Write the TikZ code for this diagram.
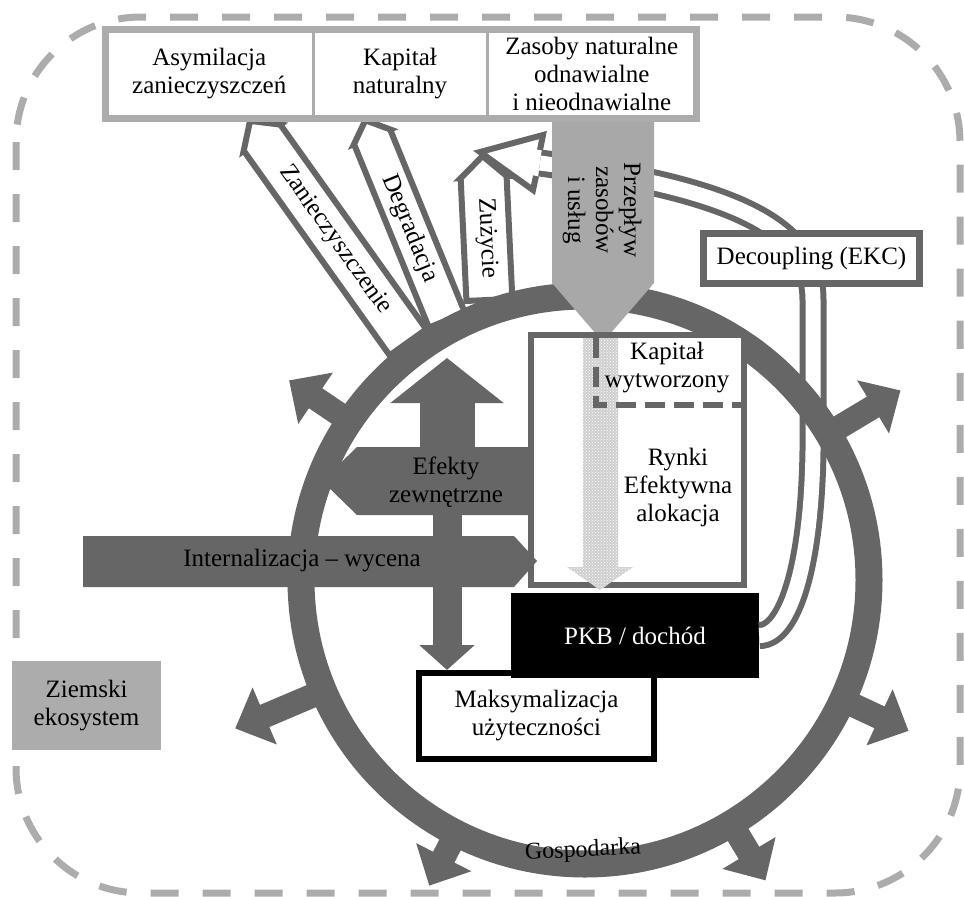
\documentclass[tikz,border=0pt]{standalone}
\usepackage{fontspec}
\setmainfont{Liberation Serif}
\usepackage{tikz}
\usetikzlibrary{arrows.meta,positioning,shapes.arrows,calc,patterns}
\definecolor{ringgray}{RGB}{102,102,102}
\definecolor{palegray}{RGB}{172,172,172}
\definecolor{flowgray}{RGB}{168,168,168}
\newcommand{\lbl}{\fontsize{25}{28}\selectfont}
\tikzset{
  ecoframe/.style={draw=palegray,line width=7pt,dash pattern=on 28pt off 24pt,rounded corners=125pt},
  topbox/.style={draw=palegray,line width=3pt,fill=white,minimum height=89pt,outer sep=0pt,inner sep=2pt,align=center,font=\lbl},
  whitebox/.style={draw=#1,line width=6pt,fill=white,inner sep=2pt,align=center,font=\lbl},
  pkbbox/.style={fill=black,text=white,minimum width=248pt,minimum height=85pt,font=\lbl},
  earthbox/.style={fill=palegray,minimum width=149pt,minimum height=89pt,align=center,font=\lbl},
  outarrow/.style={single arrow,shape border rotate=180,draw=ringgray,line width=6pt,fill=white,single arrow head extend=0.01pt,single arrow tip angle=95,inner sep=1pt,font=\lbl},
  spoke/.style={draw=ringgray,line width=24pt,-{Triangle[length=32pt,width=60pt]}},
  band/.style={draw=ringgray,line width=6pt,double=white,double distance=15pt},
  txt/.style={align=center,font=\lbl}
}

\begin{document}
\begin{tikzpicture}[x=1pt,y=-1pt]
\useasboundingbox (0,0) rectangle (964,897);
\draw[ecoframe] (16,17) rectangle (960,893);
\node[earthbox] (earth) at (86.5,705.5) {Ziemski\\ekosystem};

\node[whitebox=black,minimum width=235pt,minimum height=86pt] (maks) at (536.5,716) {Maksymalizacja\\użyteczności};
\node[pkbbox] (pkb) at (635,635.5) {PKB / dochód};

\coordinate (dectail) at (540,163);
\draw[band] (pkb.east) .. controls (790,636) and (815,560) .. (813,420) -- (813,300) .. controls (813,230) and (740,190) .. (dectail);
\node[whitebox=ringgray,line width=7pt,minimum width=216pt,minimum height=50pt] (decoup) at (811.5,258.5) {Decoupling (EKC)};

\node[outarrow,rotate=-54.5,minimum height=272pt,minimum width=45pt] (zan) at (335,240) {Zanieczyszczenie};
\node[outarrow,rotate=-67.8,minimum height=216pt,minimum width=39pt] (deg) at (409.5,228.5) {Degradacja};
\node[outarrow,rotate=-87.3,minimum height=144pt,minimum width=46pt] (zuz) at (486.5,238.5) {Zużycie};
\filldraw[draw=ringgray,fill=white,line width=6pt] (540,150) -- (543,135) -- (480,152) -- (533,190) -- (536,176);

\node[circle,draw=ringgray,line width=27pt,minimum size=568pt,inner sep=0pt,outer sep=0pt] (gosp) at (585,580) {};
\foreach \ang/\len in {146.5/1.257,-157.9/1.338,-117.2/1.208,-59.5/1.234,-25.2/1.257,31.1/1.296}
  \draw[spoke] (gosp.\ang) -- ($(gosp.center)!\len!(gosp.\ang)$);
\node[font=\fontsize{24}{28}\selectfont,rotate=3] (gospl) at (583,851) {Gospodarka};

\node[topbox,minimum width=207.5pt] (b1) at (209.25,74) {Asymilacja\\zanieczyszczeń};
\node[topbox,minimum width=174pt,right=0pt of b1] (b2) {Kapitał\\naturalny};
\node[topbox,minimum width=209.5pt,right=0pt of b2] (b3) {Zasoby naturalne\\odnawialne\\i nieodnawialne};
\draw[palegray,line width=7pt] (b1.north west) rectangle (b3.south east);

\fill[flowgray] (552,122) -- (654,122) -- (654,283) -- (603,342) -- (552,283) -- cycle;
\node[txt,rotate=-90] (flow) at (602,210) {Przepływ\\zasobów\\i usług};

\coordinate (efc) at (447,481);
\coordinate (uptip) at (447,358);
\draw[draw=ringgray,line width=55pt,-{Triangle[length=45pt,width=111pt]}] (efc) -- (uptip);
\draw[draw=ringgray,line width=29pt,-{Triangle[length=25pt,width=54pt]}] (efc) -- (efc |- maks.north);
\fill[ringgray] (528,447) -- (357,447) -- (322,481) -- (357,515) -- (528,515) -- cycle;
\node[txt] (efekty) at (446,482) {Efekty\\zewnętrzne};

\node[whitebox=ringgray,minimum width=213pt,minimum height=250pt] (kap) at (637.5,460) {};
\path[fill=gray!38,postaction={pattern=crosshatch dots,pattern color=white}] (583,338) -- (618,338) -- (618,567) -- (633,567) -- (600,590) -- (567,567) -- (583,567) -- cycle;
\draw[ringgray,line width=6pt,dash pattern=on 20pt off 9pt] (596,338) -- (596,405) -- (744,405);
\node[txt] (kapw) at (667,368) {Kapitał\\wytworzony};
\node[txt] (rynki) at (678,487) {Rynki\\Efektywna\\alokacja};

\fill[ringgray] (83,536) -- (514,536) -- (537,561) -- (514,587) -- (83,587) -- cycle;
\node[txt] (intern) at (302,561) {Internalizacja -- wycena};
\end{tikzpicture}
\end{document}
